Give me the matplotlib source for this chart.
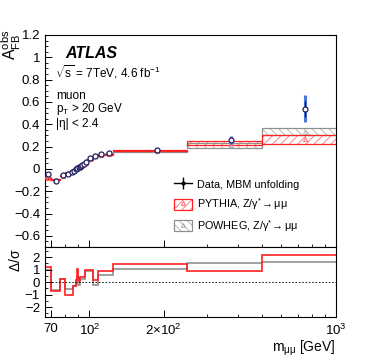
import numpy as np
import matplotlib
matplotlib.use('Agg')
import matplotlib.pyplot as plt
from matplotlib.patches import Patch
from matplotlib.lines import Line2D
from matplotlib.ticker import FixedLocator, FixedFormatter, MultipleLocator, NullFormatter

plt.rcParams['font.family'] = ['Liberation Sans', 'DejaVu Sans']
plt.rcParams['mathtext.fontset'] = 'custom'
plt.rcParams['mathtext.rm'] = 'Liberation Sans'
plt.rcParams['mathtext.it'] = 'Liberation Sans:italic'
plt.rcParams['mathtext.bf'] = 'Liberation Sans:bold'
plt.rcParams['hatch.linewidth'] = 0.6

# mass bin edges [GeV]
edges = np.array([66, 70, 76, 80, 84, 86, 88, 89, 90, 91, 92, 93, 94, 96, 98,
                  103, 108, 116, 125, 250, 500, 1000], dtype=float)

# unfolded data A_FB^obs
data = np.array([-0.050, -0.105, -0.055, -0.045, -0.030, -0.015, -0.003, 0.005,
                 0.013, 0.020, 0.028, 0.035, 0.045, 0.058, 0.097, 0.120,
                 0.135, 0.141, 0.170, 0.260, 0.540])
data_tot = np.array([0.012, 0.012, 0.010, 0.008, 0.006, 0.005, 0.004, 0.004,
                     0.004, 0.004, 0.004, 0.004, 0.005, 0.006, 0.008, 0.010,
                     0.011, 0.013, 0.012, 0.035, 0.120])
data_stat = data_tot * 0.6

# MC predictions and their uncertainties
pythia = np.array([-0.085, -0.097, -0.060, -0.036, -0.027, -0.013, -0.004, 0.001,
                   0.010, 0.018, 0.024, 0.031, 0.040, 0.050, 0.086, 0.117,
                   0.125, 0.133, 0.162, 0.230, 0.265])
pythia_err = np.array([0.004] * 18 + [0.004, 0.020, 0.040])
powheg = np.array([-0.080, -0.098, -0.060, -0.038, -0.029, -0.014, -0.003, 0.003,
                   0.014, 0.022, 0.026, 0.033, 0.042, 0.051, 0.087, 0.123,
                   0.128, 0.137, 0.158, 0.210, 0.335])
powheg_err = np.array([0.004] * 18 + [0.004, 0.020, 0.035])

# pulls Delta/sigma
pull_pythia = np.array([1.2, -0.75, 0.27, -1.0, -1.0, -0.35, 0.2, 1.05, 0.3, 0.1,
                        0.4, 0.4, 0.4, 0.93, 0.93, 0.13, 0.85, 0.85, 1.45, 0.88, 2.2])
pull_powheg = np.array([1.0, -0.65, 0.27, -0.55, -0.55, -0.3, 0.0, 0.45, -0.2, -0.2,
                        0.27, 0.27, 0.27, 0.85, 0.85, -0.27, 0.6, 0.6, 1.07, 1.55, 1.6])

centers = 0.5 * (edges[:-1] + edges[1:])
widths = np.diff(edges)

red = '#ff2020'
gray = '#909090'

fig = plt.figure(figsize=(3.74, 3.57), dpi=100)
ax = fig.add_axes([0.120, 0.308, 0.778, 0.594])
ax2 = fig.add_axes([0.120, 0.112, 0.778, 0.196], sharex=ax)

# MC bands
for mc, err, col, hcol, hatch in [(powheg, powheg_err, gray, '#b0b0b0', '\\\\\\\\'),
                                  (pythia, pythia_err, red, '#ff7070', '////')]:
    ax.bar(edges[:-1], 2 * err, width=widths, bottom=mc - err, align='edge',
           color='white', edgecolor=hcol, hatch=hatch, linewidth=0, zorder=2)
    ax.bar(edges[:-1], 2 * err, width=widths, bottom=mc - err, align='edge',
           fill=False, edgecolor=col, linewidth=0.9, zorder=3)
    ax.plot(centers, mc, ls='none', marker='^', ms=3, mfc='none', mec=hcol,
            mew=0.7, zorder=3)

# data
ax.errorbar(centers, data, yerr=data_tot, fmt='none', ecolor='#4a78d8',
            elinewidth=2.2, capsize=0, zorder=4)
ax.errorbar(centers, data, yerr=data_stat, fmt='none', ecolor='#101040',
            elinewidth=0.8, capsize=0, zorder=5)
ax.plot(centers, data, ls='none', marker='o', ms=3.6, mfc='white', mec='#202060',
        mew=0.9, zorder=6)

ax.set_xscale('log')
ax.set_xlim(66, 1000)
ax.set_ylim(-0.7, 1.2)
ax.yaxis.set_minor_locator(MultipleLocator(0.05))
ax.set_yticks(np.arange(-0.6, 1.21, 0.2))
ax.set_yticklabels(['\u22120.6', '\u22120.4', '\u22120.2', '0', '0.2', '0.4',
                    '0.6', '0.8', '1', '1.2'])

# ratio panel
ax2.stairs(pull_powheg, edges, color=gray, lw=1.2, baseline=None)
ax2.stairs(pull_pythia, edges, color=red, lw=1.2, baseline=None)
ax2.axhline(0, color='black', ls=(0, (2, 2)), lw=0.6)
ax2.set_ylim(-2.8, 2.8)
ax2.set_yticks([-2, -1, 0, 1, 2])
ax2.set_yticklabels(['\u22122', '\u22121', '0', '1', '2'])
ax2.yaxis.set_minor_locator(MultipleLocator(0.5))

xmaj = [70, 100, 200, 1000]
ax2.xaxis.set_major_locator(FixedLocator(xmaj))
ax2.xaxis.set_major_formatter(FixedFormatter(['70', r'$10^2$', r'$2{\times}10^2$', r'$10^3$']))
ax2.xaxis.set_minor_locator(FixedLocator([80, 90, 300, 400, 500, 600, 700, 800, 900]))
ax2.xaxis.set_minor_formatter(NullFormatter())
plt.setp(ax.get_xticklabels(), visible=False)

for a in (ax, ax2):
    a.tick_params(which='both', direction='in', labelsize=9.5, top=False, right=False)
    a.tick_params(which='major', length=5, width=0.7)
    a.tick_params(which='minor', length=2.5, width=0.6)
    for s in a.spines.values():
        s.set_linewidth(0.8)
ax2.tick_params(axis='x', pad=4)

ax2.set_xlabel(r'm$_{\rm μμ}$ [GeV]', fontsize=10, loc='right', labelpad=1)
fig.text(0.030, 0.916, r'A$_{\rm FB}^{\rm obs}$', rotation=90, ha='center', va='top', fontsize=11.5)
fig.text(0.042, 0.305, r'$\rm Δ/σ$', rotation=90, ha='center', va='top', fontsize=10)

# labels
ax.text(0.069, 0.915, 'ATLAS', transform=ax.transAxes, fontsize=11.5,
        fontweight='bold', style='italic', va='center')
ax.text(0.034, 0.825, r'$\sqrt{\rm s}$ = 7TeV, 4.6 fb$^{-1}$', transform=ax.transAxes,
        fontsize=8.5, va='center')
ax.text(0.038, 0.712, 'muon', transform=ax.transAxes, fontsize=8.5, va='center')
ax.text(0.038, 0.650, r'p$_{\rm T}$ > 20 GeV', transform=ax.transAxes, fontsize=8.5, va='center')
ax.text(0.038, 0.578, '|η| < 2.4', transform=ax.transAxes, fontsize=8.5, va='center')

h_data = (Line2D([], [], color='black', lw=1.0),
          Line2D([], [], color='black', ls='none', marker='|', ms=8, mew=1.0),
          Line2D([], [], color='black', ls='none', marker='o', ms=2))
h_py = (Patch(facecolor='white', edgecolor='#ff7070', hatch='////', lw=0),
        Patch(fill=False, edgecolor=red, lw=0.9),
        Line2D([], [], ls='none', marker='^', ms=3, mfc='none', mec='#ff7070', mew=0.7))
h_pw = (Patch(facecolor='white', edgecolor='#b0b0b0', hatch='\\\\\\\\', lw=0),
        Patch(fill=False, edgecolor=gray, lw=0.9),
        Line2D([], [], ls='none', marker='^', ms=3, mfc='none', mec='#b0b0b0', mew=0.7))
ax.legend([h_data, h_py, h_pw],
          ['Data, MBM unfolding', r'PYTHIA, Z/$\rm γ^{*}\!\rightarrow μμ$',
           r'POWHEG, Z/$\rm γ^{*}\!\rightarrow μμ$'],
          loc='upper left', bbox_to_anchor=(0.43, 0.342), frameon=False,
          fontsize=7.8, handlelength=1.6, handleheight=1.2, handletextpad=0.5,
          labelspacing=0.55, borderaxespad=0)

fig.savefig('out.png', dpi=100)
